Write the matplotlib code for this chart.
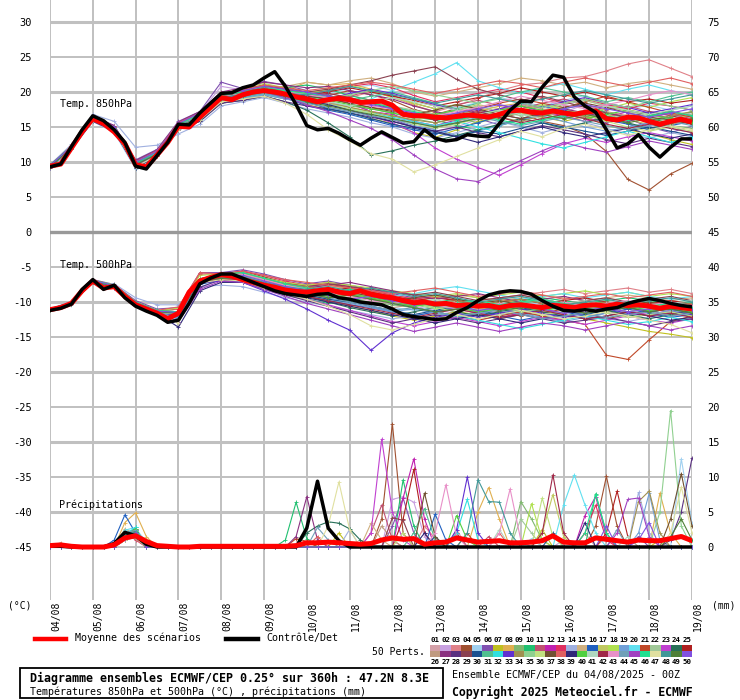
import numpy as np
import matplotlib.pyplot as plt
from matplotlib.patches import Rectangle
from matplotlib.lines import Line2D

plt.rcParams['font.family'] = ['DejaVu Sans Mono']

# ---------------- data ----------------
dates = ["04/08", "05/08", "06/08", "07/08", "08/08", "09/08", "10/08", "11/08",
         "12/08", "13/08", "14/08", "15/08", "16/08", "17/08", "18/08", "19/08"]

member_colors = [
    "#d4a0a8", "#c8a0e0", "#e08088", "#a05030", "#a0d0f0", "#8050b0", "#c0c020", "#e0b050",
    "#80b870", "#20c070", "#c05070", "#c020b0", "#e03060", "#a0b0e0", "#d0b080", "#2060c0",
    "#c0c860", "#b0e050", "#70a0d8", "#60e0f0", "#c04828", "#a0c898", "#c040d0", "#287058",
    "#b02020",
    "#c09a80", "#8a3080", "#5a3080", "#8a4050", "#1a5090", "#50c090", "#30e0e0", "#6030d0",
    "#a09050", "#90d090", "#c0e080", "#705030", "#e06060", "#302878", "#50d040", "#b0d8c0",
    "#a02848", "#e890c8", "#70a0b8", "#a040c0", "#20e090", "#e0e0a0", "#409898", "#508038",
    "#8050e0",
]

# 6-hourly mean / control
t850_mean = [9.4, 9.7, 12.0, 14.3, 16.2, 15.5, 14.3, 12.6, 9.6, 9.3,
             11.0, 12.8, 15.1, 15.0, 16.4, 17.8, 19.2, 18.9, 19.6, 20.0,
             20.2, 20.0, 19.7, 19.3, 19.0, 18.6, 18.9, 19.1, 18.9, 18.5,
             18.6, 18.7, 18.1, 16.8, 16.6, 16.6, 16.4, 16.3, 16.5, 16.7,
             16.6, 16.4, 16.8, 17.3, 17.4, 17.1, 17.0, 17.3, 17.0, 16.8,
             17.1, 17.3, 16.2, 16.0, 16.4, 16.3, 15.8, 15.4, 15.8, 16.1, 15.7]
t850_ctrl = [9.3, 9.7, 12.2, 14.6, 16.6, 15.9, 14.6, 12.8, 9.4, 9.0,
             10.9, 12.8, 15.4, 15.3, 17.0, 18.4, 19.8, 19.9, 20.6, 21.0,
             22.0, 22.9, 20.8, 18.2, 15.2, 14.6, 14.8, 14.1, 13.2, 12.4,
             13.4, 14.3, 13.5, 12.7, 12.9, 14.6, 13.4, 13.0, 13.2, 13.9,
             13.7, 13.6, 15.5, 17.4, 18.7, 18.6, 20.7, 22.4, 22.1, 19.3,
             18.0, 17.1, 14.6, 12.0, 12.6, 13.9, 12.1, 10.7, 12.1, 13.3, 13.3]
t500_mean = [-11.1, -10.8, -10.2, -8.4, -7.0, -8.0, -7.8, -9.2, -10.4, -11.0,
             -11.6, -12.4, -11.6, -8.6, -7.0, -6.5, -6.1, -6.3, -6.8, -7.2,
             -7.6, -7.9, -8.3, -8.5, -8.6, -8.4, -8.2, -8.6, -8.8, -8.4,
             -8.9, -9.2, -9.4, -9.8, -10.1, -10.0, -10.3, -10.2, -10.5, -10.4,
             -10.6, -10.5, -10.8, -10.5, -10.4, -10.6, -10.8, -10.5, -10.6, -10.8,
             -10.5, -10.4, -10.6, -10.3, -10.5, -10.4, -10.6, -10.9, -10.6, -10.8, -11.0]
t500_ctrl = [-11.2, -10.9, -10.3, -8.2, -6.8, -8.2, -7.6, -9.4, -10.6, -11.3,
             -11.9, -12.9, -12.6, -10.2, -7.4, -6.6, -6.0, -6.0, -6.6, -7.2,
             -7.8, -8.4, -8.8, -9.0, -9.2, -8.9, -8.8, -9.4, -9.6, -10.0,
             -10.2, -10.4, -11.0, -11.8, -12.1, -12.3, -12.5, -12.4, -11.5, -10.8,
             -9.8, -9.0, -8.6, -8.4, -8.5, -8.9, -9.8, -10.6, -11.2, -11.3,
             -11.1, -11.3, -11.0, -10.8, -10.2, -9.8, -9.5, -9.8, -10.2, -10.5, -10.7]
pr_mean = [0.2, 0.3, 0.1, 0.0, 0.0, 0.0, 0.3, 1.3, 1.6, 0.8,
           0.2, 0.1, 0.0, 0.0, 0.1, 0.1, 0.1, 0.1, 0.1, 0.1,
           0.1, 0.1, 0.1, 0.2, 0.6, 0.6, 0.7, 0.6, 0.5, 0.4,
           0.5, 1.0, 1.3, 1.1, 1.2, 0.4, 0.6, 0.7, 1.3, 1.0,
           0.7, 0.8, 0.9, 0.6, 0.6, 0.7, 0.9, 1.6, 0.7, 0.6,
           0.6, 1.3, 1.1, 0.9, 0.7, 1.0, 0.9, 0.9, 1.2, 1.5, 0.9]
pr_ctrl = [0.1, 0.1, 0.0, 0.0, 0.0, 0.0, 0.5, 2.1, 1.6, 0.4,
           0.0, 0.0, 0.0, 0.0, 0.0, 0.0, 0.0, 0.0, 0.0, 0.0,
           0.0, 0.0, 0.0, 0.0, 2.7, 9.4, 2.7, 0.9, 0.0, 0.0,
           0.0, 0.0, 0.0, 0.0, 0.0, 0.0, 0.0, 0.0, 0.0, 0.0,
           0.0, 0.0, 0.0, 0.0, 0.0, 0.0, 0.0, 0.0, 0.0, 0.0,
           0.0, 0.0, 0.0, 0.0, 0.0, 0.0, 0.0, 0.0, 0.0, 0.0, 0.0]

# 12-hourly members, 850 hPa
t850_members = [
    [9.4, 12.1, 16.0, 14.6, 9.4, 11.0, 15.0, 16.2, 19.0, 20.1, 21.0, 20.2, 19.3, 19.0, 19.6, 18.8, 18.0, 17.2, 16.3, 17.0, 17.8, 17.1, 18.0, 17.2, 16.4, 17.0, 16.0, 16.8, 16.2, 17.0, 16.4],
    [9.3, 12.0, 16.5, 15.0, 10.0, 11.6, 15.6, 17.0, 20.8, 20.3, 20.6, 20.1, 19.8, 19.2, 18.3, 17.8, 16.9, 15.2, 14.3, 15.0, 16.1, 17.0, 18.2, 18.0, 17.1, 18.2, 17.0, 16.1, 15.2, 16.0, 17.1],
    [9.5, 12.3, 16.1, 14.8, 9.8, 11.0, 14.6, 16.1, 18.6, 19.2, 20.0, 19.1, 18.2, 19.0, 19.2, 20.0, 19.3, 18.1, 17.2, 18.0, 19.1, 20.2, 21.0, 21.3, 22.0, 22.2, 23.0, 24.0, 24.6, 23.4, 22.2],
    [9.4, 12.0, 16.3, 15.0, 10.1, 11.5, 15.4, 17.0, 19.8, 19.6, 20.5, 20.8, 19.9, 19.5, 20.2, 19.6, 18.8, 17.5, 16.8, 17.6, 16.9, 16.2, 17.0, 15.8, 15.2, 14.0, 11.5, 7.5, 6.0, 8.3, 9.8],
    [9.2, 11.8, 15.8, 14.2, 9.0, 10.8, 14.8, 16.0, 18.8, 19.2, 20.1, 19.8, 19.5, 19.8, 20.5, 21.0, 20.2, 19.0, 18.2, 17.8, 18.5, 19.2, 18.6, 18.0, 18.8, 19.5, 18.2, 17.6, 18.1, 17.4, 18.0],
    [9.5, 12.2, 16.6, 15.2, 10.3, 11.8, 15.8, 17.2, 21.4, 20.5, 21.5, 21.0, 20.2, 19.6, 18.5, 17.2, 16.1, 15.0, 14.8, 15.6, 16.2, 15.3, 16.0, 16.8, 17.2, 16.4, 15.6, 16.2, 15.0, 14.2, 15.1],
    [9.3, 11.9, 16.2, 14.9, 9.5, 11.3, 15.0, 16.4, 19.1, 19.5, 20.0, 19.2, 18.2, 17.5, 17.0, 16.2, 15.5, 14.2, 13.5, 14.6, 15.8, 16.4, 17.2, 16.4, 15.8, 16.5, 15.2, 14.6, 14.0, 13.2, 12.5],
    [9.4, 12.2, 16.4, 15.1, 9.9, 11.4, 15.3, 16.8, 19.5, 20.0, 20.6, 20.2, 21.4, 21.0, 21.2, 20.4, 19.6, 18.2, 17.0, 16.5, 17.2, 18.0, 18.4, 19.1, 19.6, 18.8, 18.0, 17.5, 16.8, 16.2, 16.6],
    [9.4, 12.0, 16.0, 14.7, 9.6, 11.1, 14.8, 16.0, 18.6, 19.0, 19.6, 19.0, 18.6, 18.2, 18.0, 17.6, 17.0, 16.2, 15.6, 16.3, 15.6, 16.4, 17.0, 16.6, 17.4, 16.9, 16.2, 15.5, 14.6, 15.2, 14.8],
    [9.6, 12.3, 16.3, 14.9, 9.7, 11.2, 15.2, 16.6, 19.4, 19.8, 20.4, 20.6, 21.0, 20.4, 19.5, 18.8, 17.6, 16.4, 16.0, 15.2, 14.6, 15.2, 16.0, 16.8, 17.6, 18.2, 17.1, 16.2, 15.8, 16.4, 17.2],
    [9.3, 12.1, 16.2, 14.8, 9.8, 11.3, 15.1, 16.5, 19.2, 19.6, 20.2, 19.6, 19.0, 18.6, 19.4, 20.2, 19.5, 18.4, 17.6, 18.2, 18.8, 18.1, 17.6, 18.4, 19.0, 18.2, 17.4, 18.0, 17.2, 16.8, 16.2],
    [9.4, 12.0, 16.1, 14.6, 9.3, 11.0, 14.9, 16.2, 18.9, 19.4, 20.0, 19.4, 18.6, 19.2, 18.4, 17.2, 16.8, 15.8, 15.2, 16.0, 16.8, 17.6, 18.0, 17.2, 16.6, 15.8, 16.4, 17.2, 17.0, 16.2, 15.4],
    [9.5, 12.2, 16.4, 15.0, 10.0, 11.5, 15.5, 16.9, 19.6, 20.1, 20.8, 20.4, 19.8, 20.2, 20.8, 21.2, 20.6, 19.5, 18.6, 19.2, 19.8, 20.4, 20.0, 19.2, 18.4, 19.0, 18.2, 17.6, 18.4, 18.0, 17.4],
    [9.6, 12.5, 16.8, 15.8, 12.1, 12.4, 14.0, 15.4, 18.0, 18.6, 19.2, 18.4, 17.6, 17.0, 16.4, 15.6, 15.0, 14.0, 13.4, 14.2, 15.0, 15.8, 15.0, 14.2, 15.0, 15.6, 14.8, 14.0, 13.4, 14.2, 13.6],
    [9.3, 12.1, 16.2, 14.8, 9.7, 11.2, 15.2, 16.6, 19.3, 19.8, 20.4, 20.8, 21.4, 21.0, 21.6, 22.0, 21.2, 20.0, 19.4, 20.0, 20.6, 21.2, 22.0, 21.6, 21.0, 21.4, 20.6, 21.2, 21.6, 21.0, 20.4],
    [9.4, 12.0, 16.0, 14.6, 9.4, 11.0, 14.8, 16.2, 18.8, 19.2, 19.8, 19.2, 18.0, 17.4, 16.8, 16.0, 15.2, 14.6, 14.0, 14.8, 15.6, 16.6, 17.2, 18.0, 17.4, 16.6, 16.0, 15.4, 14.6, 15.2, 15.8],
    [9.4, 12.1, 16.3, 14.9, 9.8, 11.4, 15.2, 16.5, 19.2, 19.4, 20.0, 19.6, 19.0, 18.4, 17.8, 17.2, 16.6, 16.0, 16.6, 17.4, 18.2, 17.6, 17.0, 16.2, 16.8, 17.4, 16.8, 16.0, 15.4, 16.0, 16.8],
    [9.5, 12.2, 16.2, 14.8, 9.6, 11.2, 15.0, 16.8, 19.6, 20.6, 21.2, 20.6, 19.8, 20.4, 21.0, 20.2, 19.2, 18.4, 17.6, 18.2, 17.4, 16.6, 17.4, 18.2, 17.6, 16.8, 17.6, 18.4, 17.8, 18.6, 19.2],
    [9.3, 11.9, 16.0, 14.6, 9.5, 11.0, 14.9, 16.0, 18.7, 19.0, 19.6, 19.0, 18.4, 17.8, 17.2, 16.8, 16.2, 15.2, 14.6, 13.8, 14.4, 15.2, 16.0, 16.6, 15.8, 15.0, 14.4, 15.0, 15.6, 14.8, 14.2],
    [9.4, 12.0, 16.2, 14.8, 9.8, 11.4, 15.3, 16.7, 19.4, 20.0, 20.6, 20.0, 19.2, 18.6, 18.0, 19.0, 20.2, 21.4, 22.6, 24.2, 21.6, 20.6, 19.8, 20.6, 21.2, 20.4, 19.6, 20.4, 21.0, 20.2, 19.6],
    [9.4, 12.1, 16.3, 15.0, 10.0, 11.6, 15.6, 17.0, 19.8, 20.4, 21.0, 20.4, 19.6, 19.0, 18.4, 17.8, 17.4, 16.6, 16.0, 16.8, 17.6, 18.4, 19.0, 18.4, 17.8, 18.6, 19.4, 18.6, 17.8, 17.0, 16.4],
    [9.3, 12.0, 16.1, 14.7, 9.6, 11.1, 15.0, 16.3, 19.0, 19.4, 20.2, 19.8, 19.4, 19.8, 19.2, 18.6, 18.0, 17.4, 16.8, 17.4, 18.0, 17.2, 16.6, 17.4, 18.2, 18.8, 18.0, 17.2, 16.6, 17.2, 16.8],
    [9.5, 12.2, 16.4, 15.0, 9.9, 11.4, 15.2, 16.6, 19.4, 19.8, 20.2, 19.6, 18.8, 18.2, 17.4, 16.6, 15.6, 14.2, 12.0, 10.4, 9.2, 8.1, 9.6, 11.2, 12.6, 13.4, 12.8, 13.6, 14.2, 13.6, 13.0],
    [9.4, 12.0, 16.0, 14.6, 9.2, 10.8, 14.6, 15.8, 18.4, 18.8, 19.4, 18.6, 17.4, 15.6, 13.6, 11.0, 11.6, 12.4, 13.0, 13.8, 14.6, 15.4, 16.2, 15.6, 14.8, 15.6, 16.4, 15.6, 14.8, 15.4, 16.0],
    [9.4, 12.1, 16.2, 14.8, 9.7, 11.2, 15.1, 16.6, 19.3, 19.8, 20.4, 20.0, 19.6, 20.0, 20.6, 20.0, 19.4, 18.8, 18.0, 18.6, 19.2, 19.8, 20.6, 20.0, 19.4, 20.0, 19.2, 18.6, 19.0, 18.4, 18.8],
    [9.3, 12.0, 16.1, 14.7, 9.5, 11.1, 15.0, 16.4, 19.0, 19.6, 20.0, 19.4, 18.8, 18.4, 18.0, 18.4, 18.0, 17.0, 16.4, 15.8, 16.6, 17.4, 18.2, 17.6, 17.0, 16.4, 17.2, 16.6, 16.0, 15.4, 16.0],
    [9.5, 12.2, 16.5, 15.2, 10.2, 11.7, 15.7, 17.2, 20.0, 20.6, 21.4, 21.0, 20.6, 20.8, 20.2, 19.6, 19.0, 18.0, 17.2, 16.6, 17.4, 16.8, 16.2, 16.8, 17.6, 17.0, 16.4, 15.8, 16.6, 17.2, 16.6],
    [9.2, 11.8, 15.8, 14.4, 9.2, 10.8, 14.6, 15.8, 18.4, 18.8, 19.4, 18.6, 18.0, 17.6, 17.0, 16.4, 15.8, 15.0, 14.4, 15.0, 14.2, 13.6, 14.4, 15.2, 14.6, 14.0, 13.2, 12.6, 13.4, 12.8, 12.2],
    [9.4, 12.1, 16.3, 15.0, 10.0, 11.5, 15.4, 16.9, 19.6, 20.2, 20.8, 20.4, 20.0, 20.4, 21.0, 21.6, 22.4, 23.0, 23.6, 21.8, 20.4, 19.6, 18.8, 19.4, 18.6, 17.8, 17.0, 16.4, 17.2, 16.6, 16.0],
    [9.4, 12.0, 16.1, 14.7, 9.6, 11.2, 15.0, 16.4, 19.1, 19.6, 20.2, 19.6, 18.6, 17.6, 17.0, 16.2, 15.4, 14.8, 14.2, 13.6, 14.4, 14.0, 14.8, 15.6, 15.0, 14.4, 13.8, 14.4, 15.0, 14.4, 13.8],
    [9.5, 12.2, 16.3, 14.9, 9.8, 11.4, 15.3, 16.8, 19.5, 20.0, 20.6, 20.2, 19.6, 19.2, 18.8, 19.4, 20.0, 19.2, 18.4, 17.6, 18.4, 19.2, 20.0, 20.6, 20.0, 19.4, 18.6, 19.2, 18.6, 19.4, 20.0],
    [9.3, 11.9, 16.0, 14.6, 9.4, 11.0, 14.8, 16.2, 18.8, 19.2, 19.8, 19.2, 18.6, 18.2, 17.6, 17.0, 16.4, 15.8, 15.2, 15.8, 15.0, 14.2, 13.4, 12.6, 12.0, 12.8, 13.6, 14.4, 13.6, 12.8, 13.6],
    [9.4, 12.1, 16.2, 14.8, 9.7, 11.3, 15.2, 16.6, 19.3, 19.8, 20.4, 20.0, 19.4, 19.0, 19.8, 20.4, 19.8, 19.0, 18.2, 17.4, 16.8, 17.6, 18.4, 17.8, 18.6, 19.2, 18.4, 17.8, 17.0, 17.6, 18.2],
    [9.4, 12.0, 16.1, 14.7, 9.5, 11.1, 15.0, 16.4, 19.0, 19.6, 20.2, 19.8, 19.2, 18.6, 17.8, 17.2, 16.6, 16.0, 15.6, 16.2, 17.0, 16.4, 15.8, 16.6, 17.2, 16.6, 16.0, 16.6, 16.0, 16.6, 17.2],
    [9.5, 12.2, 16.4, 15.0, 10.0, 11.5, 15.4, 16.8, 19.5, 20.0, 20.8, 20.2, 19.6, 19.2, 19.6, 20.2, 20.8, 20.2, 19.6, 19.0, 18.4, 19.0, 18.4, 17.8, 18.4, 19.0, 18.4, 17.8, 18.6, 18.0, 17.4],
    [9.3, 12.0, 16.0, 14.6, 9.4, 11.0, 14.9, 16.2, 18.8, 19.4, 20.0, 19.4, 18.8, 18.2, 17.6, 17.0, 16.2, 15.4, 14.8, 15.4, 16.2, 17.0, 17.6, 16.8, 16.2, 16.8, 15.8, 15.0, 14.4, 15.0, 14.4],
    [9.4, 12.1, 16.3, 14.9, 9.8, 11.3, 15.2, 16.6, 19.4, 19.8, 20.6, 20.0, 19.4, 19.0, 18.4, 17.8, 17.2, 16.8, 17.4, 18.2, 17.6, 16.8, 16.2, 17.0, 17.8, 18.4, 17.8, 17.0, 16.4, 16.0, 15.4],
    [9.5, 12.2, 16.4, 15.0, 10.0, 11.6, 15.6, 17.0, 19.8, 20.2, 21.0, 20.6, 20.2, 20.6, 21.0, 21.4, 21.0, 20.4, 19.8, 20.4, 21.0, 21.6, 21.2, 20.6, 21.4, 22.0, 21.4, 20.8, 21.4, 22.0, 21.2],
    [9.4, 12.0, 16.0, 14.6, 9.5, 11.1, 14.9, 16.2, 19.0, 19.4, 20.0, 19.4, 18.8, 18.2, 17.4, 16.6, 15.8, 15.0, 14.4, 13.6, 12.8, 13.6, 14.4, 15.0, 14.2, 13.6, 14.2, 14.8, 14.0, 13.4, 14.0],
    [9.4, 12.1, 16.2, 14.8, 9.7, 11.2, 15.1, 16.5, 19.2, 19.8, 20.4, 19.8, 19.2, 18.8, 18.2, 17.6, 17.0, 16.4, 16.8, 17.4, 16.8, 17.4, 18.0, 17.4, 16.8, 16.2, 16.8, 17.4, 16.8, 16.2, 15.6],
    [9.3, 12.0, 16.1, 14.7, 9.6, 11.1, 15.0, 16.3, 19.0, 19.4, 20.0, 19.6, 19.0, 18.6, 18.0, 18.6, 19.2, 18.6, 18.0, 17.4, 16.8, 17.4, 16.8, 16.2, 16.8, 17.4, 18.0, 17.4, 16.8, 17.4, 18.0],
    [9.5, 12.2, 16.3, 14.9, 9.8, 11.4, 15.3, 16.7, 19.4, 20.0, 20.6, 20.0, 19.4, 19.8, 19.2, 18.4, 17.6, 16.8, 16.0, 16.6, 17.2, 16.4, 15.6, 16.2, 16.8, 16.2, 15.4, 14.8, 15.4, 14.8, 14.2],
    [9.4, 12.1, 16.2, 14.8, 9.7, 11.3, 15.2, 16.6, 19.3, 19.8, 20.4, 20.0, 19.6, 19.2, 18.6, 18.0, 17.6, 17.0, 16.6, 17.2, 17.8, 18.6, 19.4, 18.8, 18.2, 17.6, 18.2, 18.8, 19.6, 20.2, 19.6],
    [9.3, 11.9, 16.0, 14.6, 9.4, 11.0, 14.8, 16.2, 18.8, 19.2, 19.8, 19.2, 18.4, 17.8, 17.2, 16.6, 16.0, 15.6, 15.0, 15.6, 16.4, 15.8, 15.2, 15.8, 16.4, 15.8, 15.2, 14.6, 15.2, 15.8, 15.2],
    [9.4, 12.0, 16.1, 14.7, 9.5, 11.1, 15.0, 16.4, 19.0, 19.6, 20.0, 19.2, 18.2, 17.2, 16.0, 14.8, 13.2, 11.0, 9.0, 7.6, 7.2, 8.8, 10.2, 11.6, 12.8, 12.0, 11.4, 12.2, 13.0, 12.4, 11.8],
    [9.5, 12.2, 16.3, 14.9, 9.8, 11.4, 15.3, 16.8, 19.5, 20.0, 20.6, 20.2, 19.8, 19.4, 19.0, 18.4, 17.8, 17.2, 16.6, 16.0, 16.6, 16.0, 15.4, 16.0, 16.6, 17.2, 16.6, 16.0, 16.6, 17.2, 16.6],
    [9.4, 12.0, 16.0, 14.6, 9.3, 10.9, 14.6, 16.0, 18.6, 19.0, 19.4, 18.4, 16.8, 14.6, 13.0, 11.2, 10.4, 8.6, 9.6, 10.8, 12.0, 13.2, 14.4, 13.6, 14.8, 15.4, 14.6, 13.8, 14.6, 15.2, 14.6],
    [9.4, 12.1, 16.2, 14.8, 9.7, 11.2, 15.1, 16.5, 19.2, 19.7, 20.2, 19.8, 19.6, 20.2, 20.8, 20.2, 19.6, 19.0, 18.4, 19.0, 19.6, 19.0, 18.4, 19.0, 19.6, 20.2, 19.6, 19.0, 18.4, 19.0, 19.6],
    [9.3, 12.0, 16.1, 14.7, 9.6, 11.1, 15.0, 16.3, 19.0, 19.4, 20.0, 19.4, 18.6, 18.0, 17.4, 16.8, 16.2, 15.6, 15.0, 15.6, 16.2, 16.8, 17.4, 16.8, 16.2, 16.8, 16.2, 15.6, 16.2, 15.6, 16.2],
    [9.5, 12.2, 16.4, 15.0, 10.0, 11.5, 15.5, 17.0, 19.7, 20.2, 20.8, 20.4, 20.0, 19.4, 18.8, 18.2, 17.6, 17.0, 16.4, 17.0, 17.6, 18.2, 17.6, 17.0, 17.6, 18.2, 17.6, 17.0, 16.4, 17.0, 17.6],
]

# 12-hourly members, 500 hPa
t500_members = [
    [-11.1, -10.2, -7.0, -7.6, -10.0, -11.2, -11.4, -6.9, -6.4, -6.2, -7.0, -7.8, -8.2, -7.6, -8.0, -8.4, -9.0, -9.6, -9.2, -9.8, -10.2, -9.6, -9.0, -9.6, -10.2, -9.8, -10.4, -10.0, -9.6, -10.2, -10.6],
    [-11.2, -10.3, -6.8, -7.9, -10.4, -11.6, -11.8, -7.3, -6.2, -5.8, -6.6, -7.2, -7.6, -8.2, -8.6, -9.2, -10.0, -10.6, -11.2, -11.6, -12.0, -11.4, -10.8, -11.4, -12.0, -11.6, -11.2, -10.8, -11.4, -12.0, -11.6],
    [-11.0, -10.1, -7.2, -7.8, -10.1, -11.3, -11.5, -7.1, -6.6, -6.6, -7.4, -8.0, -8.6, -8.4, -8.8, -9.2, -9.6, -9.2, -9.6, -10.2, -9.8, -9.4, -9.0, -8.6, -8.2, -8.8, -8.4, -8.0, -8.6, -8.2, -8.8],
    [-11.1, -10.2, -7.0, -7.7, -10.2, -11.5, -11.7, -6.7, -6.0, -5.6, -6.4, -7.2, -7.8, -7.4, -8.0, -8.8, -9.4, -10.0, -10.6, -10.2, -10.8, -11.4, -12.0, -11.6, -11.0, -11.6, -12.4, -11.8, -11.2, -10.6, -11.2],
    [-11.2, -10.4, -7.1, -8.0, -10.5, -11.8, -12.6, -7.9, -6.8, -6.4, -7.2, -8.0, -8.8, -9.4, -10.0, -10.4, -10.8, -11.2, -10.8, -10.2, -10.8, -11.2, -10.6, -10.0, -10.6, -11.2, -10.8, -11.4, -10.8, -10.2, -10.8],
    [-11.0, -10.0, -6.8, -7.5, -9.8, -11.0, -10.8, -5.8, -5.8, -5.4, -6.0, -6.8, -7.4, -7.0, -7.6, -8.2, -8.8, -9.4, -10.0, -10.4, -10.0, -10.6, -11.2, -10.8, -10.4, -10.0, -10.6, -11.0, -10.6, -11.2, -11.8],
    [-11.1, -10.2, -7.0, -7.8, -10.3, -11.5, -11.7, -7.1, -6.6, -6.6, -7.6, -8.6, -9.2, -9.8, -10.6, -11.2, -12.0, -12.6, -12.0, -11.4, -11.8, -12.4, -11.8, -11.2, -11.8, -12.4, -13.0, -13.6, -14.2, -14.6, -15.1],
    [-11.2, -10.3, -7.1, -7.9, -10.2, -11.4, -11.6, -6.9, -6.4, -6.4, -7.2, -7.8, -8.2, -7.8, -8.2, -8.6, -9.0, -9.6, -10.2, -10.8, -10.2, -9.6, -10.2, -10.8, -10.4, -9.8, -10.4, -10.8, -10.2, -9.8, -10.4],
    [-11.1, -10.2, -6.9, -7.7, -10.1, -11.3, -11.5, -7.1, -6.8, -7.0, -8.0, -8.8, -9.4, -9.0, -9.6, -10.0, -10.4, -10.8, -11.4, -12.0, -11.4, -10.8, -11.4, -12.0, -11.4, -10.8, -11.2, -10.6, -11.2, -11.8, -11.4],
    [-11.0, -10.1, -7.0, -7.8, -10.2, -11.4, -11.6, -7.3, -7.0, -7.2, -8.2, -9.0, -9.6, -10.2, -9.8, -9.4, -9.8, -10.4, -10.0, -9.6, -10.0, -10.4, -9.8, -9.4, -9.8, -10.2, -9.8, -9.4, -9.8, -10.2, -9.8],
    [-11.1, -10.2, -7.1, -7.9, -10.3, -11.5, -11.7, -6.9, -6.2, -6.0, -6.8, -7.4, -7.8, -8.2, -8.8, -9.4, -9.8, -10.2, -10.6, -11.0, -10.6, -11.0, -11.4, -11.0, -10.6, -11.0, -11.4, -11.8, -11.4, -11.0, -11.4],
    [-11.2, -10.3, -7.0, -7.8, -10.2, -11.4, -11.6, -7.1, -6.6, -6.6, -7.4, -8.2, -8.8, -8.4, -9.0, -9.6, -10.2, -10.8, -11.4, -11.0, -11.6, -12.2, -11.6, -11.0, -11.6, -11.2, -10.8, -11.4, -11.8, -11.2, -10.8],
    [-11.1, -10.2, -7.0, -7.7, -10.1, -11.3, -11.0, -6.0, -6.0, -5.6, -6.2, -7.0, -7.6, -7.2, -7.8, -8.4, -9.0, -9.6, -9.2, -9.8, -10.4, -10.0, -9.6, -10.2, -10.8, -10.4, -10.0, -10.6, -10.2, -9.8, -10.4],
    [-11.0, -9.9, -7.2, -7.4, -9.4, -10.4, -10.4, -7.8, -7.6, -7.8, -8.6, -9.4, -10.0, -10.6, -11.2, -11.8, -12.4, -12.0, -11.4, -12.0, -12.6, -12.0, -11.4, -12.0, -12.4, -11.8, -12.4, -12.8, -12.2, -11.6, -12.0],
    [-11.1, -10.2, -7.0, -7.8, -10.2, -11.4, -11.6, -6.9, -6.2, -6.0, -6.8, -7.6, -8.0, -7.6, -8.2, -8.8, -9.2, -9.8, -9.4, -9.0, -9.4, -9.8, -9.4, -9.0, -9.4, -9.8, -9.4, -9.0, -9.4, -9.8, -9.4],
    [-11.2, -10.3, -7.1, -8.0, -10.4, -11.6, -12.4, -7.5, -6.8, -6.8, -7.8, -8.6, -9.2, -9.8, -10.4, -10.8, -11.4, -12.0, -11.4, -10.8, -11.4, -12.0, -12.6, -12.0, -11.4, -12.0, -11.6, -11.0, -11.6, -12.2, -11.8],
    [-11.1, -10.2, -7.0, -7.8, -10.2, -11.4, -11.6, -7.1, -6.6, -6.4, -7.2, -8.0, -8.4, -8.0, -8.6, -9.0, -9.6, -10.2, -10.8, -10.4, -10.0, -10.6, -11.2, -10.6, -10.2, -10.8, -11.4, -10.8, -10.2, -10.8, -11.2],
    [-11.0, -10.1, -6.9, -7.6, -10.0, -11.2, -10.9, -6.2, -6.0, -5.8, -6.6, -7.2, -7.6, -7.2, -7.6, -8.0, -8.4, -8.8, -9.2, -8.8, -9.4, -9.0, -8.6, -9.2, -8.8, -8.4, -9.0, -8.6, -9.2, -8.8, -9.2],
    [-11.1, -10.2, -7.0, -7.8, -10.3, -11.6, -12.2, -7.3, -6.8, -6.8, -7.6, -8.4, -9.0, -9.6, -10.2, -10.8, -11.4, -11.0, -11.6, -12.2, -11.6, -11.0, -11.6, -12.2, -12.8, -12.2, -11.6, -12.2, -11.8, -11.2, -11.8],
    [-11.2, -10.3, -7.1, -7.9, -10.2, -11.4, -11.6, -6.9, -6.4, -6.4, -7.2, -8.0, -8.4, -8.0, -8.4, -8.8, -9.2, -8.8, -8.2, -7.8, -8.4, -9.0, -9.6, -9.2, -8.8, -9.4, -9.0, -8.6, -9.2, -9.6, -9.2],
    [-11.1, -10.2, -7.0, -7.8, -10.2, -11.4, -11.6, -7.1, -6.6, -6.6, -7.4, -8.2, -8.8, -9.4, -9.0, -9.6, -10.2, -10.8, -11.4, -12.0, -12.6, -12.0, -11.4, -12.0, -12.6, -13.2, -17.6, -18.2, -15.4, -12.8, -12.0],
    [-11.0, -10.1, -6.9, -7.7, -10.1, -11.3, -11.5, -6.9, -6.2, -6.2, -7.0, -7.8, -8.2, -8.8, -9.4, -9.0, -9.6, -10.2, -9.8, -10.4, -11.0, -10.6, -10.2, -10.8, -10.4, -10.0, -10.6, -10.2, -10.8, -10.4, -10.8],
    [-11.1, -10.2, -7.0, -7.8, -10.3, -11.5, -11.7, -7.3, -6.8, -6.8, -7.8, -8.8, -9.6, -10.4, -11.2, -12.0, -12.8, -13.4, -12.8, -12.2, -12.8, -13.4, -12.8, -12.2, -12.6, -13.2, -12.6, -12.0, -12.6, -13.0, -12.4],
    [-11.2, -10.3, -7.1, -7.9, -10.4, -11.6, -11.8, -7.3, -6.8, -6.8, -7.6, -8.4, -9.2, -10.0, -10.8, -11.4, -12.0, -11.4, -10.8, -11.4, -12.0, -11.4, -10.8, -11.4, -12.0, -11.6, -11.2, -11.8, -12.4, -11.8, -11.2],
    [-11.1, -10.2, -7.0, -7.7, -10.1, -11.3, -11.5, -6.9, -6.2, -6.0, -6.8, -7.6, -8.0, -8.4, -8.0, -8.6, -9.2, -9.8, -9.4, -9.8, -10.4, -10.0, -9.6, -10.2, -9.8, -9.4, -10.0, -10.6, -10.2, -9.8, -10.2],
    [-11.0, -10.1, -6.9, -7.6, -10.0, -11.2, -11.4, -6.7, -6.2, -6.2, -7.0, -7.8, -8.4, -9.0, -9.6, -10.2, -10.8, -10.4, -10.0, -10.6, -11.2, -10.8, -10.4, -11.0, -10.6, -10.2, -10.8, -11.4, -11.0, -10.6, -11.0],
    [-11.1, -10.2, -7.1, -7.8, -10.2, -11.4, -11.6, -7.1, -6.4, -6.2, -7.0, -7.6, -8.0, -7.6, -7.2, -7.8, -8.4, -9.0, -9.6, -9.2, -8.8, -9.4, -10.0, -9.6, -9.2, -9.8, -10.4, -10.0, -9.6, -10.2, -10.6],
    [-11.2, -10.3, -7.0, -7.8, -10.3, -11.5, -12.8, -7.9, -6.8, -7.0, -8.0, -9.0, -9.8, -10.6, -11.4, -12.2, -13.0, -12.4, -11.8, -12.4, -13.0, -12.4, -11.8, -12.4, -13.0, -12.6, -12.2, -12.8, -13.4, -12.8, -12.4],
    [-11.1, -10.2, -7.0, -7.8, -10.2, -11.4, -11.6, -6.9, -6.2, -6.0, -6.8, -7.4, -7.8, -7.4, -7.8, -8.2, -8.6, -9.0, -8.6, -9.2, -9.8, -9.4, -9.0, -9.6, -10.2, -9.8, -9.4, -10.0, -9.6, -9.2, -9.8],
    [-11.0, -10.1, -6.9, -7.7, -10.1, -11.3, -11.5, -7.1, -6.6, -6.6, -7.6, -8.4, -9.0, -9.6, -10.0, -10.6, -11.2, -11.8, -11.2, -10.6, -11.2, -11.8, -11.2, -10.6, -11.2, -11.8, -11.2, -10.8, -11.4, -11.0, -11.6],
    [-11.1, -10.2, -7.0, -7.8, -10.2, -11.4, -11.6, -6.9, -6.4, -6.2, -7.0, -7.8, -8.2, -8.8, -8.4, -9.0, -9.6, -10.2, -10.8, -10.4, -10.0, -10.6, -10.2, -9.8, -10.4, -11.0, -10.6, -10.2, -10.8, -10.4, -10.0],
    [-11.2, -10.3, -7.1, -7.9, -10.3, -11.5, -11.7, -7.1, -6.6, -6.6, -7.4, -8.2, -8.8, -8.4, -9.0, -9.6, -10.2, -10.8, -11.4, -12.0, -12.6, -13.2, -13.8, -13.2, -12.6, -12.0, -12.6, -13.2, -12.8, -12.2, -12.8],
    [-11.1, -10.2, -7.0, -7.8, -10.2, -11.4, -12.0, -7.3, -7.0, -7.2, -8.4, -9.6, -11.0, -12.6, -14.0, -16.9, -14.4, -13.0, -12.2, -11.6, -12.2, -11.6, -11.0, -11.6, -12.2, -11.6, -11.0, -11.6, -12.0, -11.4, -11.8],
    [-11.0, -10.1, -6.9, -7.6, -10.0, -11.2, -11.4, -6.7, -6.0, -5.8, -6.6, -7.4, -7.8, -8.4, -9.0, -9.6, -10.0, -10.6, -10.2, -9.8, -10.4, -10.0, -9.6, -10.2, -10.8, -10.4, -10.0, -10.4, -10.0, -10.6, -10.2],
    [-11.1, -10.2, -7.0, -7.8, -10.2, -11.4, -11.6, -7.1, -6.6, -6.4, -7.2, -8.0, -8.6, -8.2, -8.8, -9.4, -9.8, -10.4, -11.0, -10.6, -10.2, -10.8, -11.4, -11.0, -10.6, -10.2, -10.8, -11.4, -11.0, -10.6, -11.2],
    [-11.2, -10.3, -7.1, -7.9, -10.3, -11.5, -11.7, -6.9, -6.2, -6.0, -6.8, -7.6, -8.2, -8.8, -9.4, -9.0, -9.6, -10.2, -10.8, -11.4, -11.0, -10.6, -11.2, -11.8, -11.4, -11.0, -11.6, -12.2, -11.8, -11.4, -12.0],
    [-11.1, -10.2, -7.0, -7.8, -10.2, -11.4, -11.6, -7.1, -6.6, -6.6, -7.4, -8.0, -8.4, -8.0, -8.6, -9.2, -9.8, -9.4, -9.0, -9.6, -10.2, -9.8, -10.4, -11.0, -10.6, -10.2, -10.8, -10.4, -10.0, -10.6, -11.0],
    [-11.0, -10.1, -6.9, -7.6, -10.0, -11.2, -10.7, -5.8, -6.0, -5.6, -6.2, -6.8, -7.2, -7.6, -8.0, -8.4, -8.8, -8.4, -8.0, -8.6, -9.2, -8.8, -8.4, -9.0, -9.6, -9.2, -8.8, -9.4, -9.0, -8.6, -9.2],
    [-11.1, -10.2, -7.0, -7.8, -10.3, -11.6, -13.6, -8.4, -7.2, -7.2, -8.0, -8.8, -9.4, -10.0, -10.6, -11.2, -11.8, -12.4, -13.0, -12.4, -11.8, -12.4, -13.0, -12.4, -11.8, -12.4, -12.0, -11.4, -12.0, -12.6, -12.2],
    [-11.2, -10.3, -7.1, -7.9, -10.2, -11.4, -11.6, -7.1, -6.4, -6.4, -7.2, -8.0, -8.6, -9.2, -8.8, -9.4, -10.0, -10.6, -10.2, -10.8, -11.4, -11.0, -10.6, -11.2, -10.8, -10.4, -11.0, -10.6, -11.2, -10.8, -11.4],
    [-11.1, -10.2, -7.0, -7.8, -10.2, -11.4, -11.6, -6.9, -6.4, -6.2, -7.0, -7.8, -8.2, -7.8, -8.4, -9.0, -9.4, -10.0, -9.6, -10.2, -9.8, -10.4, -10.0, -9.6, -10.2, -9.8, -10.4, -10.0, -10.6, -10.2, -9.8],
    [-11.0, -10.1, -6.9, -7.7, -10.1, -11.3, -11.5, -7.1, -6.8, -6.8, -7.8, -8.6, -9.2, -9.8, -10.4, -11.0, -11.6, -12.2, -11.6, -11.0, -11.6, -12.2, -11.8, -11.2, -11.8, -12.4, -12.0, -11.4, -12.0, -11.6, -12.2],
    [-11.1, -10.2, -7.0, -7.8, -10.2, -11.4, -11.6, -6.9, -6.2, -6.0, -6.8, -7.6, -8.0, -8.6, -9.2, -9.8, -10.2, -9.8, -10.4, -11.0, -10.6, -10.2, -10.8, -10.4, -10.0, -10.6, -10.2, -9.8, -10.4, -10.0, -10.6],
    [-11.2, -10.3, -7.1, -7.9, -10.3, -11.5, -12.3, -7.1, -6.6, -6.6, -7.4, -8.2, -8.8, -9.4, -10.0, -10.6, -11.2, -10.8, -11.4, -12.0, -11.6, -11.2, -11.8, -12.4, -12.0, -11.6, -12.2, -11.8, -11.4, -12.0, -11.6],
    [-11.1, -10.2, -7.0, -7.8, -10.3, -11.5, -12.8, -8.2, -7.0, -7.2, -8.2, -9.2, -10.2, -11.0, -11.8, -12.6, -13.4, -14.2, -13.6, -13.0, -13.6, -14.2, -13.6, -13.0, -13.4, -14.0, -13.4, -12.8, -13.4, -14.0, -13.4],
    [-11.0, -10.1, -6.9, -7.6, -10.0, -11.2, -11.4, -6.7, -6.0, -5.8, -6.6, -7.4, -8.0, -8.6, -8.2, -8.8, -9.4, -10.0, -10.6, -10.2, -9.8, -10.4, -10.0, -9.6, -10.2, -10.8, -10.4, -10.0, -10.6, -10.2, -10.8],
    [-11.1, -10.2, -7.0, -7.8, -10.2, -11.4, -13.0, -7.3, -6.8, -7.0, -8.0, -8.8, -9.6, -10.6, -11.8, -13.4, -14.0, -13.2, -12.4, -11.8, -12.4, -11.8, -11.2, -11.8, -12.4, -12.0, -11.4, -12.0, -12.6, -13.2, -14.4],
    [-11.2, -10.3, -7.1, -7.9, -10.2, -11.4, -11.6, -6.9, -6.4, -6.4, -7.2, -7.8, -8.2, -7.8, -8.4, -8.0, -8.6, -9.2, -8.8, -9.4, -10.0, -9.6, -9.2, -9.8, -10.4, -10.0, -9.6, -10.2, -9.8, -9.4, -10.0],
    [-11.1, -10.2, -7.0, -7.8, -10.2, -11.4, -11.6, -7.1, -6.6, -6.6, -7.4, -8.2, -8.8, -9.4, -9.0, -9.6, -10.2, -10.8, -11.4, -11.0, -10.6, -11.2, -10.8, -10.4, -11.0, -11.6, -11.2, -10.8, -11.4, -11.0, -11.6],
    [-11.0, -10.1, -6.9, -7.7, -10.1, -11.3, -11.5, -6.9, -6.2, -6.2, -7.0, -7.8, -8.4, -9.0, -9.6, -9.2, -9.8, -10.4, -10.0, -10.6, -11.2, -10.8, -10.4, -11.0, -11.6, -11.2, -10.8, -11.4, -11.0, -10.6, -11.2],
]

# 6-hourly member precipitation (mm): (step, amount); other steps are dry
pr_events = {
    1: [(1, 0.4), (7, 1.2), (8, 1.8), (9, 0.6), (38, 2.5), (44, 0.8), (50, 2.0)],
    2: [(7, 1.5), (8, 2.2), (9, 0.5), (32, 6.8), (33, 7.2), (34, 6.4), (35, 1.5), (48, 1.0)],
    3: [(7, 1.0), (8, 2.0), (35, 3.0), (36, 1.2), (52, 1.5)],
    4: [(7, 1.6), (8, 1.4), (31, 4.0), (32, 17.6), (33, 2.0), (51, 3.0), (52, 10.1), (53, 3.0)],
    5: [(7, 2.0), (8, 2.6), (9, 0.8), (45, 1.2), (59, 12.6), (60, 3.5)],
    6: [(7, 1.2), (8, 1.8), (32, 3.0), (33, 7.0), (34, 2.0), (55, 1.5)],
    7: [(1, 0.3), (7, 1.4), (8, 2.4), (27, 2.0), (46, 2.5), (57, 1.0)],
    8: [(7, 3.5), (8, 4.9), (9, 1.5), (40, 5.0), (41, 8.5), (42, 4.0), (57, 7.7), (58, 2.0)],
    9: [(7, 1.8), (8, 1.2), (44, 6.5), (45, 4.0), (46, 1.0)],
    10: [(7, 1.0), (8, 2.8), (22, 1.0), (23, 6.4), (24, 1.2), (33, 9.6), (34, 3.0), (51, 7.6), (52, 2.0)],
    11: [(7, 1.6), (8, 1.6), (30, 2.0), (31, 6.0), (32, 1.0), (41, 1.5)],
    12: [(7, 1.2), (8, 2.2), (33, 7.0), (34, 12.6), (35, 4.0), (50, 4.5), (51, 7.2), (52, 1.5)],
    13: [(7, 2.2), (8, 1.0), (50, 2.0), (51, 6.0), (52, 1.0)],
    14: [(7, 1.0), (8, 1.6), (28, 2.5), (55, 7.8), (56, 2.0)],
    15: [(1, 0.6), (7, 2.6), (8, 1.8), (30, 3.4), (31, 1.0)],
    16: [(6, 1.0), (7, 4.6), (8, 2.0), (36, 4.7), (37, 1.0)],
    17: [(7, 1.3), (8, 2.0), (46, 2.0), (47, 7.5), (48, 1.5)],
    18: [(7, 1.8), (8, 1.4), (45, 6.2), (46, 1.0)],
    19: [(7, 1.5), (8, 2.4), (55, 2.0), (56, 7.7), (57, 1.0)],
    20: [(7, 2.4), (8, 2.8), (48, 6.0), (49, 10.3), (50, 6.0), (51, 2.0)],
    21: [(7, 1.0), (8, 1.8), (23, 1.2), (24, 0.8), (39, 2.0)],
    22: [(7, 1.4), (8, 2.0), (44, 4.0), (45, 2.0)],
    23: [(7, 1.6), (8, 1.8), (30, 2.0), (31, 15.4), (32, 5.0), (33, 1.0)],
    24: [(7, 1.2), (8, 1.6), (24, 2.0), (25, 3.0), (26, 3.6), (27, 3.4), (28, 2.6), (29, 1.0)],
    25: [(7, 1.8), (8, 2.6), (33, 4.0), (34, 11.1), (35, 2.0), (52, 2.0), (53, 8.0), (54, 1.5)],
    26: [(1, 0.5), (7, 2.2), (8, 1.2), (31, 3.0), (32, 1.0)],
    27: [(7, 1.4), (8, 2.0), (23, 1.5), (24, 7.2), (25, 1.0)],
    28: [(7, 1.0), (8, 1.4), (58, 1.0), (59, 5.0), (60, 12.7)],
    29: [(7, 1.6), (8, 2.4), (32, 4.2), (33, 3.8), (38, 2.0)],
    30: [(7, 2.0), (8, 1.8), (36, 1.5), (47, 2.0)],
    31: [(7, 1.2), (8, 2.2), (34, 2.0), (35, 5.5), (36, 1.0)],
    32: [(7, 1.8), (8, 2.8), (38, 2.0), (39, 6.8), (40, 1.0)],
    33: [(7, 1.4), (8, 2.0), (38, 2.5), (39, 10.0), (40, 2.0)],
    34: [(7, 1.0), (8, 1.6), (55, 6.5), (56, 8.0), (57, 2.0)],
    35: [(7, 1.6), (8, 2.4), (57, 5.0), (58, 19.5), (59, 3.0)],
    36: [(7, 2.0), (8, 1.8), (33, 2.0), (46, 7.0), (47, 1.5)],
    37: [(7, 1.4), (8, 2.2), (35, 7.7), (36, 1.5), (58, 4.0), (59, 10.5), (60, 3.0)],
    38: [(7, 1.8), (8, 1.4), (25, 1.5), (42, 2.0)],
    39: [(7, 1.2), (8, 2.0), (35, 2.0), (50, 3.5)],
    40: [(7, 1.6), (8, 2.6), (38, 4.5), (39, 1.0)],
    41: [(7, 1.0), (8, 1.8), (42, 2.5), (54, 1.5)],
    42: [(7, 1.8), (8, 2.2), (46, 2.0), (47, 10.3), (48, 2.0)],
    43: [(7, 1.4), (8, 1.8), (36, 2.0), (37, 8.9), (38, 1.5), (42, 2.0), (43, 8.3), (44, 1.0)],
    44: [(7, 2.0), (8, 2.4), (25, 2.8), (26, 1.0), (53, 2.5)],
    45: [(7, 1.2), (8, 1.6), (53, 2.0), (54, 6.8), (55, 7.0), (56, 1.5)],
    46: [(7, 1.6), (8, 2.0), (50, 2.0), (51, 7.5), (52, 2.0)],
    47: [(7, 1.0), (8, 1.4), (26, 3.0), (27, 9.3), (28, 2.5), (58, 2.0), (59, 8.6), (60, 2.0)],
    48: [(7, 1.8), (8, 2.2), (39, 2.0), (40, 9.6), (41, 6.5), (42, 6.4), (43, 2.0)],
    49: [(7, 1.4), (8, 1.8), (58, 1.5), (59, 4.0), (60, 1.0)],
    50: [(7, 1.2), (8, 2.0), (52, 3.0), (55, 1.0), (56, 3.5)],
}

# ---------------- figure ----------------
W, H = 740, 700


def fx(px):
    return px / W


def fy(py):
    return 1 - py / H


fig = plt.figure(figsize=(7.4, 7.0), dpi=100)
ax = fig.add_axes([fx(50), fy(600), fx(692) - fx(50), fy(0) - fy(600)])
ax.set_xlim(0, 15)
ax.set_ylim(-52.57, 33.14)
for s in ax.spines.values():
    s.set_visible(False)
ax.set_xticks([])

# grid
grid_c = "#c0c0c0"
for d in range(16):
    ax.axvline(d, color=grid_c, lw=1.4, zorder=0)
for v in range(-45, 31, 5):
    if v == 0:
        ax.axhline(v, color="#999999", lw=2.4, zorder=0)
    elif v % 10 == 0:
        ax.axhline(v, color=grid_c, lw=2.2, zorder=0)
    else:
        ax.axhline(v, color=grid_c, lw=1.4, zorder=0)

t12 = np.arange(31) * 0.5
t6 = np.arange(61) * 0.25
PR_OFF = -45

for i in range(50):
    c = member_colors[i]
    kw = dict(color=c, lw=0.8, marker="+", ms=3, mew=0.6, zorder=2)
    ax.plot(t12, t850_members[i], **kw)
    ax.plot(t12, t500_members[i], **kw)
    pr = np.zeros(61)
    for step, mm in pr_events[i + 1]:
        pr[step] = mm
    ax.plot(t6, pr + PR_OFF, **kw)

for series in (t850_mean, t500_mean):
    ax.plot(t6, series, color="red", lw=3.6, zorder=3, solid_capstyle="butt")
ax.plot(t6, np.array(pr_mean) + PR_OFF, color="red", lw=3.6, zorder=3.5)
for series in (t850_ctrl, t500_ctrl):
    ax.plot(t6, series, color="black", lw=2.5, zorder=4)
ax.plot(t6, np.array(pr_ctrl) + PR_OFF, color="black", lw=2.5, zorder=3)

# y axes
ax.set_yticks(range(-45, 31, 5))
ax.set_yticklabels([str(v) for v in range(-45, 31, 5)])
ax.tick_params(axis="y", length=0, pad=13, labelsize=7.5)
ax2 = ax.twinx()
for s in ax2.spines.values():
    s.set_visible(False)
ax2.set_ylim(-52.57 + 45, 33.14 + 45)
ax2.set_yticks(range(0, 76, 5))
ax2.set_yticklabels([str(v) for v in range(0, 76, 5)])
ax2.tick_params(axis="y", length=0, pad=11, labelsize=7.5)

# panel titles
fig.text(fx(60), fy(104), "Temp. 850hPa", fontsize=7.2, va="center", zorder=6)
fig.text(fx(60), fy(265), "Temp. 500hPa", fontsize=7.2, va="center", zorder=6)
fig.text(fx(59), fy(505), "Précipitations", fontsize=7.2, va="center", zorder=6)

# date labels
for d, lab in enumerate(dates):
    fig.text(fx(50 + d * 42.8 + 6), fy(602), lab, rotation=90, ha="center",
             va="top", fontsize=7)
fig.text(fx(8), fy(606), "(°C)", fontsize=7, va="center")
fig.text(fx(712), fy(606), "(mm)", fontsize=7, va="center")

# legend
fig.add_artist(Line2D([fx(35), fx(66)], [fy(639), fy(639)], color="red", lw=3.2,
                      transform=fig.transFigure))
fig.text(fx(75), fy(638), "Moyenne des scénarios", fontsize=7.2, va="center")
fig.add_artist(Line2D([fx(226), fx(258)], [fy(639), fy(639)], color="black", lw=3.2,
                      transform=fig.transFigure))
fig.text(fx(266), fy(638), "Contrôle/Det", fontsize=7.2, va="center")
fig.text(fx(425), fy(652), "50 Perts.", fontsize=7, va="center", ha="right")

cw = (692 - 430) / 25
for j in range(25):
    x0 = 430 + j * cw
    fig.add_artist(Rectangle((fx(x0), fy(651)), cw / W, 6 / H,
                             facecolor=member_colors[j], edgecolor="none",
                             transform=fig.transFigure))
    fig.add_artist(Rectangle((fx(x0), fy(657)), cw / W, 6 / H,
                             facecolor=member_colors[25 + j], edgecolor="none",
                             transform=fig.transFigure))
    fig.text(fx(x0 + cw / 2), fy(639.5), f"{j + 1:02d}", fontsize=5.3,
             fontweight="bold", ha="center", va="center")
    fig.text(fx(x0 + cw / 2), fy(662.5), f"{j + 26}", fontsize=5.3,
             fontweight="bold", ha="center", va="center")

# info box
fig.add_artist(Rectangle((fx(20), fy(698)), (443 - 20) / W, 30 / H, fill=False,
                         edgecolor="black", lw=1.3, transform=fig.transFigure))
fig.text(fx(30), fy(678), "Diagramme ensembles ECMWF/CEP 0.25° sur 360h : 47.2N 8.3E",
         fontsize=8.4, fontweight="bold", va="center")
fig.text(fx(30), fy(692), "Températures 850hPa et 500hPa (°C) , précipitations (mm)",
         fontsize=7.2, va="center")
fig.text(fx(452), fy(675), "Ensemble ECMWF/CEP du 04/08/2025 - 00Z", fontsize=7.2,
         va="center")
fig.text(fx(452), fy(692), "Copyright 2025 Meteociel.fr - ECMWF", fontsize=8.3,
         fontweight="bold", va="center")

fig.savefig("out.png", dpi=100)
